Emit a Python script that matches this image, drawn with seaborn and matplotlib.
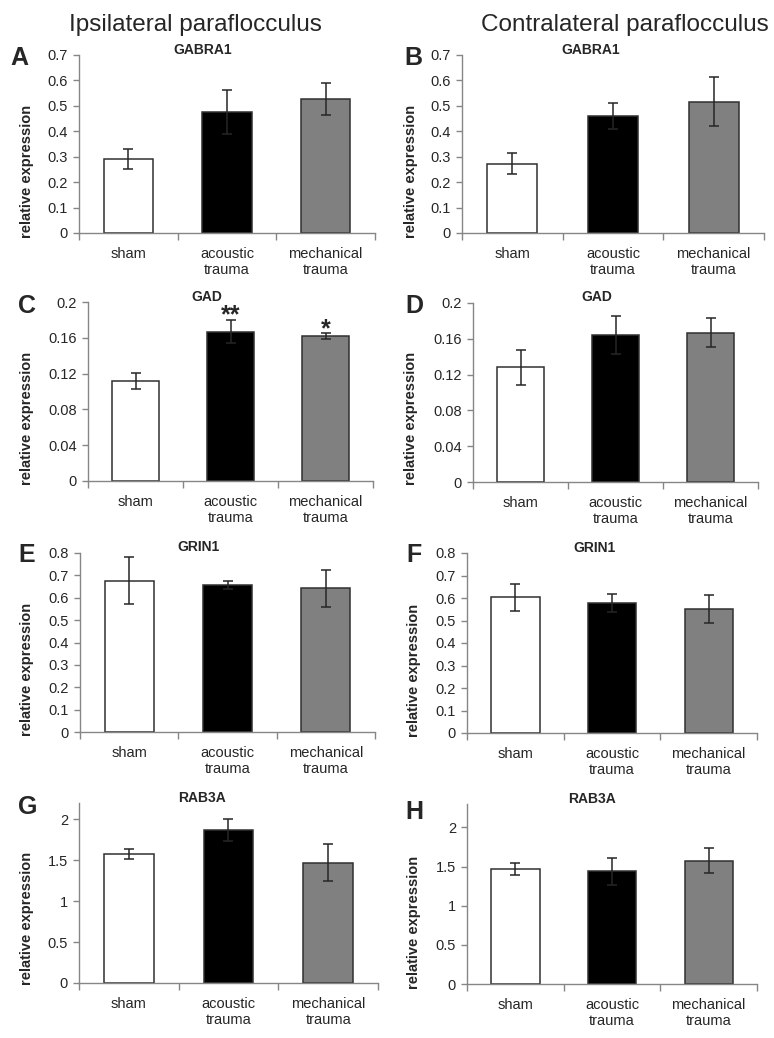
import numpy as np
import pandas as pd
import seaborn as sns
import matplotlib.pyplot as plt
from matplotlib.ticker import FuncFormatter

# data
groups = ["sham", "acoustic\ntrauma", "mechanical\ntrauma"]
panels = ["A", "B", "C", "D", "E", "F", "G", "H"]
genes = ["GABRA1", "GABRA1", "GAD", "GAD", "GRIN1", "GRIN1", "RAB3A", "RAB3A"]
sides = ["Ipsilateral paraflocculus", "Contralateral paraflocculus"]

means = [
    [0.290, 0.476, 0.527],
    [0.273, 0.460, 0.517],
    [0.112, 0.167, 0.162],
    [0.128, 0.164, 0.167],
    [0.677, 0.657, 0.643],
    [0.603, 0.580, 0.552],
    [1.575, 1.870, 1.470],
    [1.465, 1.440, 1.575],
]
errs = [
    [0.040, 0.085, 0.063],
    [0.042, 0.050, 0.095],
    [0.009, 0.013, 0.003],
    [0.020, 0.021, 0.016],
    [0.103, 0.020, 0.083],
    [0.060, 0.040, 0.062],
    [0.060, 0.130, 0.225],
    [0.078, 0.170, 0.160],
]
ymax = [0.7, 0.7, 0.2, 0.2, 0.8, 0.8, 2.2, 2.3]
ystep = [0.1, 0.1, 0.04, 0.04, 0.1, 0.1, 0.5, 0.5]
stars = {"C": ["", "**", "*"]}

bar_colors = {"sham": "#ffffff", "acoustic\ntrauma": "#000000", "mechanical\ntrauma": "#808080"}

# layout in pixels (left, right, top, bottom) of each plot area
boxes = [
    (79, 375, 55, 233), (462, 764, 55, 233),
    (88, 373, 302, 481), (473, 758, 303, 482),
    (80, 375, 553, 732), (467, 757, 553, 733),
    (79, 378, 803, 983), (467, 757, 804, 984),
]
title_xy = [(203, 50), (591, 50), (207, 297), (597, 297),
            (199, 547), (595, 548), (202, 798), (592, 799)]
letter_xy = [(19, 58), (413, 58), (27, 306), (414, 306),
             (27, 555), (414, 555), (28, 807), (414, 812)]
ylabel_xy = [(27, 171), (411, 171), (27, 418), (411, 418),
             (27, 669), (414, 670), (27, 918), (414, 922)]

sns.set_style("white")
plt.rcParams["font.family"] = ["Liberation Sans", "DejaVu Sans"]

W, H = 774, 1038
fig = plt.figure(figsize=(W / 100, H / 100), dpi=100)
axis_gray = "#868686"

for i, p in enumerate(panels):
    l, r, t, b = boxes[i]
    ax = fig.add_axes([l / W, 1 - b / H, (r - l) / W, (b - t) / H])
    df = pd.DataFrame({"group": groups, "value": means[i]})
    sns.barplot(data=df, x="group", y="value", hue="group", palette=bar_colors,
                saturation=1, width=0.5, edgecolor="#303030", linewidth=1.1,
                legend=False, ax=ax)
    xs = [bar.get_x() + bar.get_width() / 2 for bar in ax.patches]
    ax.errorbar(xs, means[i], yerr=errs[i], fmt="none", ecolor="#262626",
                elinewidth=1.1, capsize=3.5, capthick=1.1)

    if p in stars:
        for x, m, e, s in zip(xs, means[i], errs[i], stars[p]):
            if s:
                ax.annotate(s, xy=(x, m + e), xytext=(0, -2), textcoords="offset points",
                            ha="center", va="baseline", fontsize=18, fontweight="bold")

    ax.set_xlim(-0.5, 2.5)
    ax.set_ylim(0, ymax[i])
    ax.set_yticks(np.arange(0, ymax[i] + 1e-9, ystep[i]))
    ax.yaxis.set_major_formatter(FuncFormatter(lambda v, _: f"{v:g}"))
    ax.set_xticks(range(3))
    ax.set_xticklabels(groups)
    ax.set_xticks([-0.5, 0.5, 1.5, 2.5], minor=True)
    ax.tick_params(axis="x", which="major", length=0, pad=10, labelsize=10.5)
    ax.tick_params(axis="x", which="minor", length=5, width=1, color=axis_gray,
                   direction="out", bottom=True)
    ax.tick_params(axis="y", length=4, width=1, color=axis_gray, direction="out",
                   left=True, pad=4, labelsize=10.5)
    ax.set_xlabel("")
    ax.set_ylabel("")
    sns.despine(ax=ax)
    for side in ["left", "bottom"]:
        ax.spines[side].set_color(axis_gray)
        ax.spines[side].set_linewidth(1)

    tx, ty = title_xy[i]
    fig.text(tx / W, 1 - ty / H, genes[i], ha="center", va="center",
             fontsize=10, fontweight="bold")
    lx, ly = letter_xy[i]
    fig.text(lx / W, 1 - ly / H, p, ha="center", va="center",
             fontsize=18, fontweight="bold")
    yx, yy = ylabel_xy[i]
    fig.text(yx / W, 1 - yy / H, "relative expression", ha="center", va="center",
             rotation=90, fontsize=10.5, fontweight="bold")

fig.text(195 / W, 1 - 31 / H, sides[0], ha="center", va="baseline", fontsize=17.5)
fig.text(625 / W, 1 - 31 / H, sides[1], ha="center", va="baseline", fontsize=17.5)

fig.savefig("out.png", dpi=100)
